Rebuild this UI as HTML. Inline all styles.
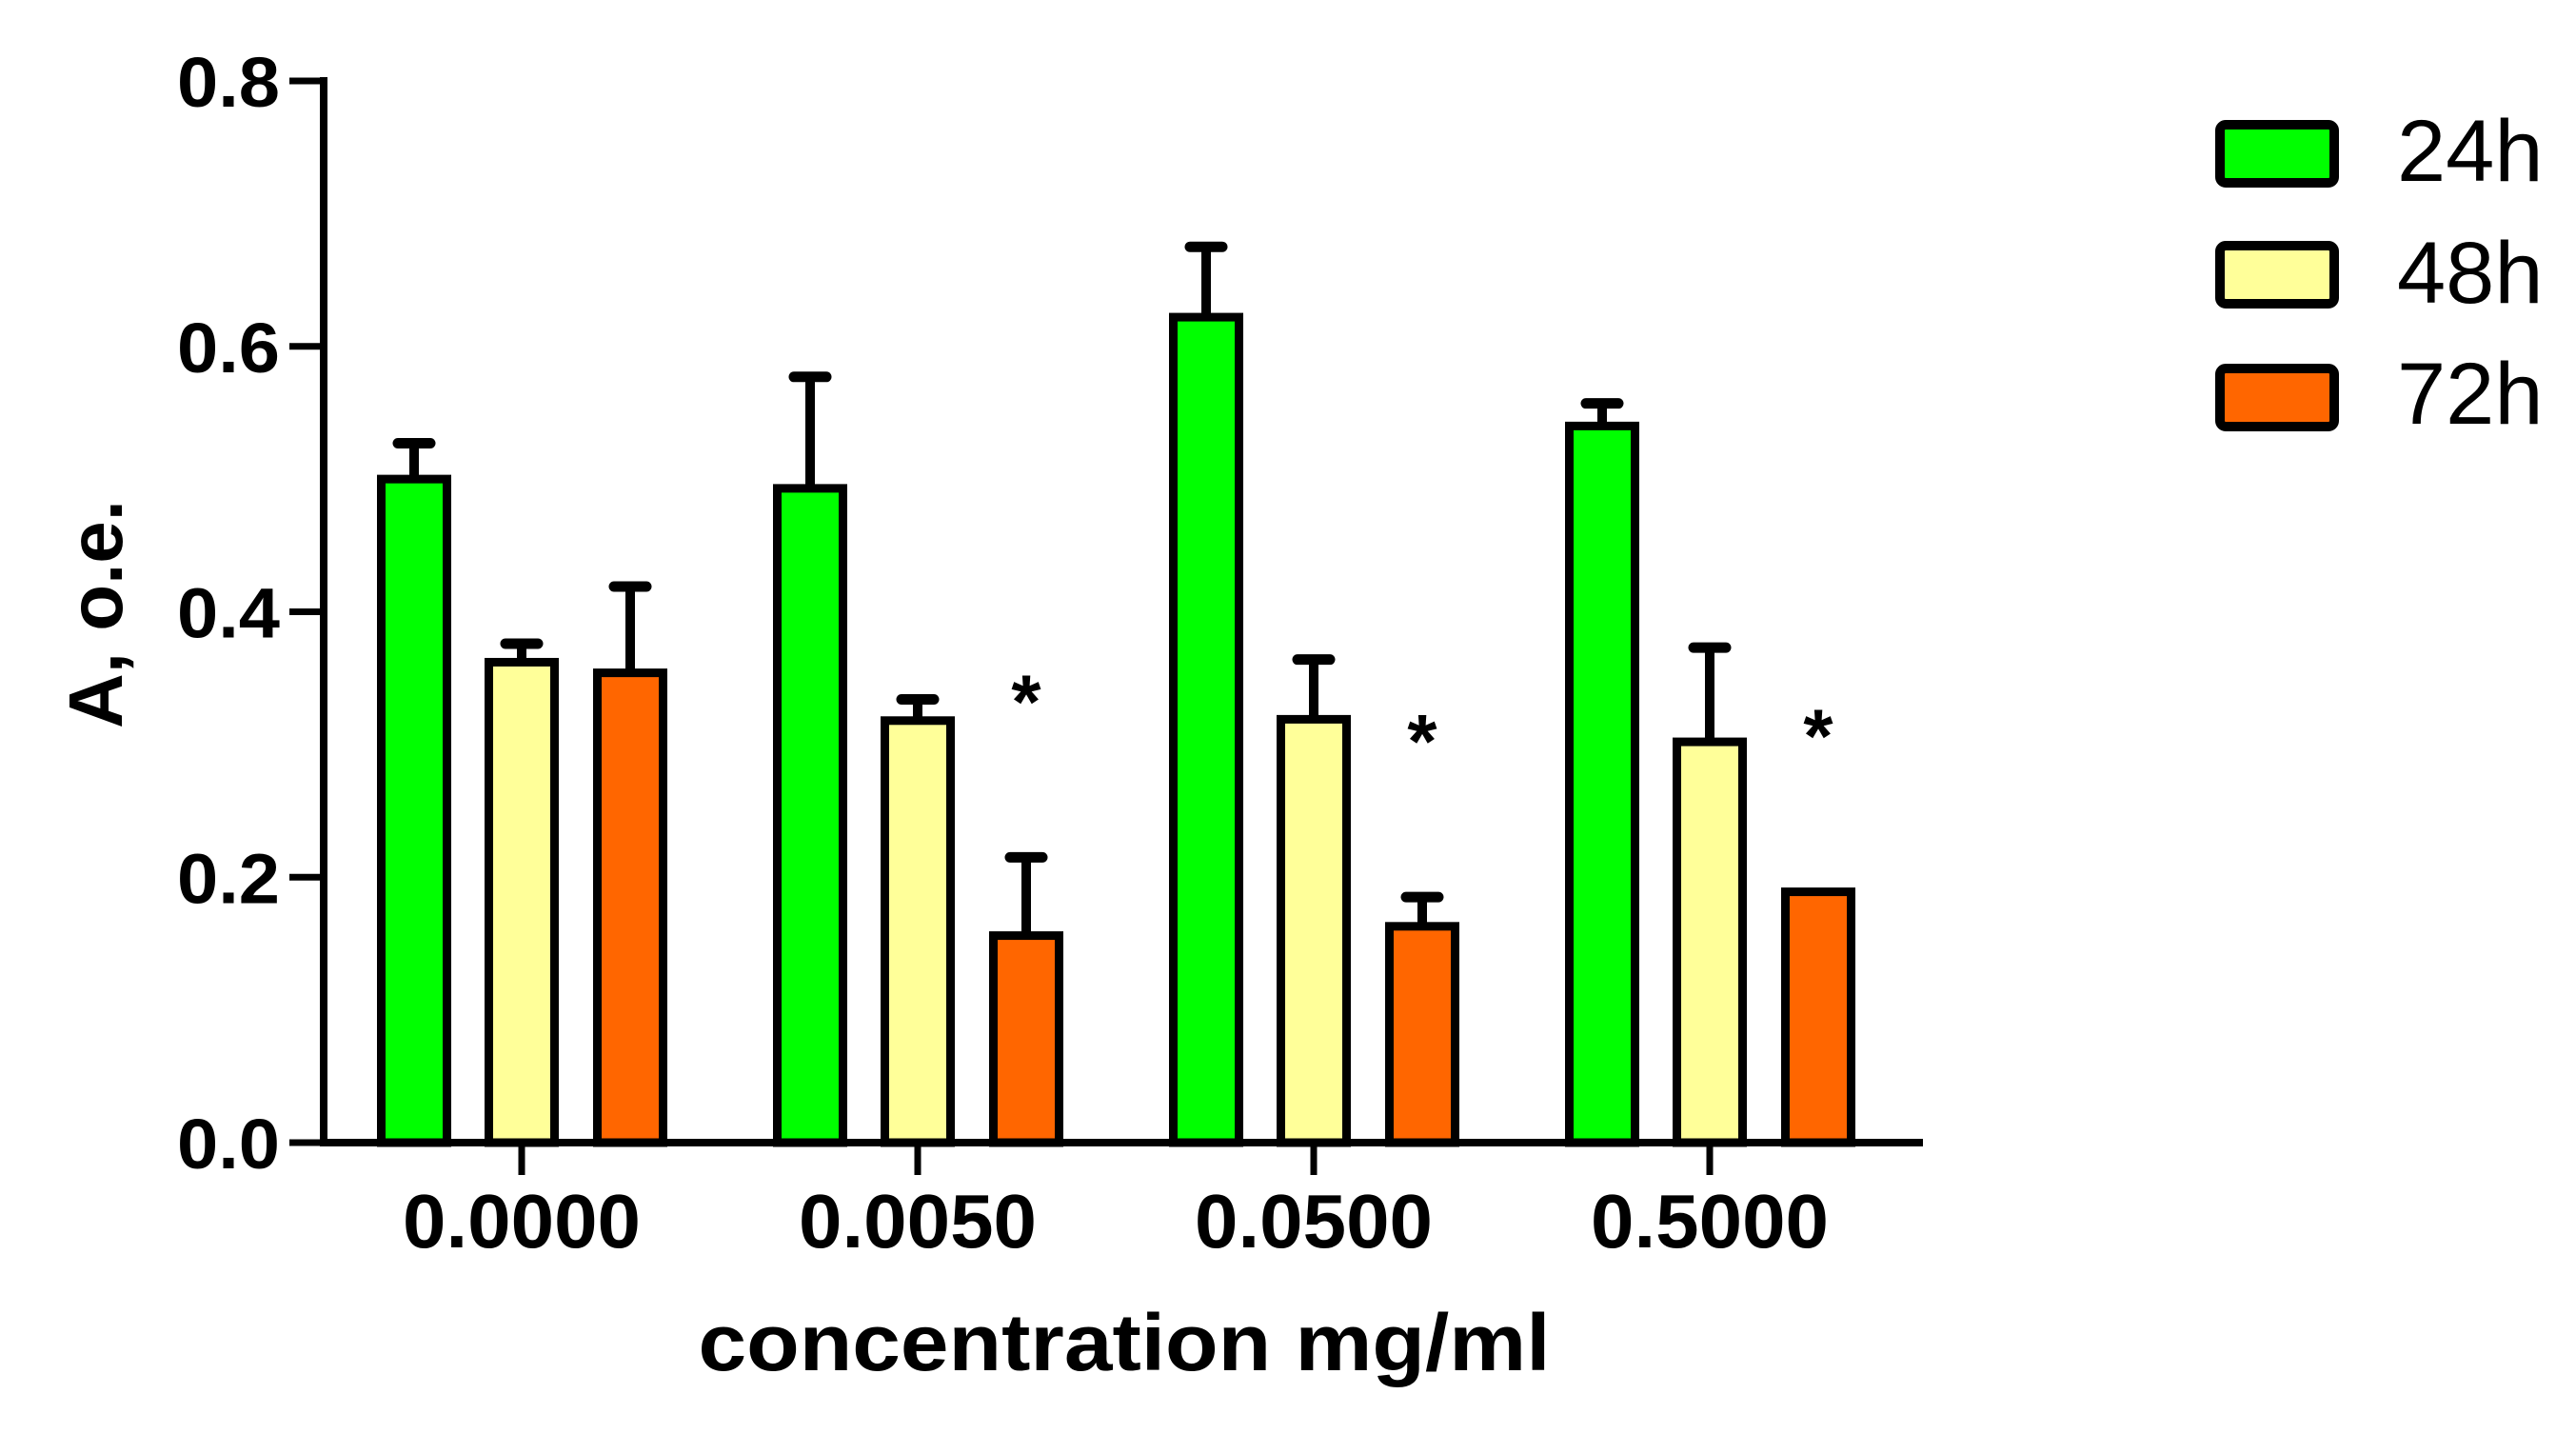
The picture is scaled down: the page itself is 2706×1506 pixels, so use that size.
<!DOCTYPE html>
<html><head><meta charset="utf-8"><style>
html,body{margin:0;padding:0;background:#fff;}
svg{display:block;}
text{font-family:"Liberation Sans",Arial,sans-serif;}
</style></head><body>
<svg id="chart" width="2706" height="1506" viewBox="0 0 2706 1506" xmlns="http://www.w3.org/2000/svg">
<g id="bars"></g>
<g id="axes"></g>
<g id="legend"></g>
</svg>
<script>
const categories = ["0.0000","0.0050","0.0500","0.5000"];
const seriesNames = ["24h","48h","72h"];
const means24 = [0.500,0.493,0.622,0.540];
const means48 = [0.362,0.318,0.319,0.302];
const means72 = [0.354,0.156,0.163,0.189];
const err24 = [0.027,0.084,0.053,0.017];
const err48 = [0.014,0.016,0.045,0.071];
const err72 = [0.065,0.059,0.022,0.000];
const significant72 = [false,true,true,true];
const yTicks = [0.0,0.2,0.4,0.6,0.8];
const yTickLabels = ["0.0","0.2","0.4","0.6","0.8"];

const colors = ["#00ff00","#ffff99","#ff6600"];
const means = [means24,means48,means72];
const errs = [err24,err48,err72];
const NS = "http://www.w3.org/2000/svg";
const X0 = 340, Y0 = 1200, YTOP = 85, XEND = 2020;
function yScale(v){ return Y0 - (v/0.8)*(Y0-YTOP); }
function groupX(i){ return 548 + i*416; }
const offsets = [-113, 0, 114];
const BW = 78;
function mk(tag, attrs, parent){
  const e = document.createElementNS(NS, tag);
  for (const k in attrs) e.setAttribute(k, attrs[k]);
  parent.appendChild(e); return e;
}
const bars = document.getElementById('bars');
const axes = document.getElementById('axes');
const legend = document.getElementById('legend');

categories.forEach((c, i) => {
  for (let s = 0; s < 3; s++) {
    const cx = groupX(i) + offsets[s];
    const top = yScale(means[s][i]);
    const etop = yScale(means[s][i] + errs[s][i]);
    if (errs[s][i] > 0) {
      const el = mk('line', {x1:cx, x2:cx, y1:top, y2:etop, stroke:'#000','stroke-width':10}, bars);
      
      
      const cap = mk('line', {x1:cx-17, x2:cx+17, y1:etop, y2:etop, stroke:'#000','stroke-width':11,'stroke-linecap':'round'}, bars);
      
      
    }
    const r = mk('rect', {x:cx-BW/2+4.5, y:top, width:BW-9, height:Y0-top, fill:colors[s], stroke:'#000','stroke-width':9}, bars);
    
    
  }
  if (significant72[i]) {
    const cx = groupX(i) + offsets[2];
    const etop = yScale(means72[i] + err72[i]);
    const st = mk('text', {x:cx, y:etop - 136, 'text-anchor':'middle','font-size':80,'font-weight':'bold',fill:'#000'}, bars);
    st.textContent = '*';
    
    
  }
});

// axes
let el = mk('line', {x1:X0, x2:X0, y1:YTOP-4, y2:Y0+4, stroke:'#000','stroke-width':8}, axes);


el = mk('line', {x1:X0-4, x2:XEND, y1:Y0, y2:Y0, stroke:'#000','stroke-width':8}, axes);


yTicks.forEach((v, k) => {
  const y = yScale(v);
  const t = mk('line', {x1:304, x2:X0, y1:y, y2:y, stroke:'#000','stroke-width':7}, axes);
  
  
  const lb = mk('text', {x:294, y:y+27, 'text-anchor':'end','font-size':74,'font-weight':'bold',fill:'#000',textLength:108,lengthAdjust:'spacingAndGlyphs'}, axes);
  lb.textContent = yTickLabels[k];
  
  
});
categories.forEach((c, i) => {
  const x = groupX(i);
  const t = mk('line', {x1:x, x2:x, y1:Y0, y2:1234, stroke:'#000','stroke-width':7}, axes);
  
  
  const lb = mk('text', {x:x, y:1310, 'text-anchor':'middle','font-size':80,'font-weight':'bold',fill:'#000',textLength:250,lengthAdjust:'spacingAndGlyphs'}, axes);
  lb.textContent = c;
  
  
});
el = mk('text', {x:1181, y:1439, 'text-anchor':'middle','font-size':84,'font-weight':'bold',fill:'#000',textLength:895,lengthAdjust:'spacingAndGlyphs'}, axes);
el.textContent = 'concentration mg/ml';


el = mk('text', {x:0, y:0, 'text-anchor':'middle','font-size':80,'font-weight':'bold',fill:'#000',transform:'translate(128,645) rotate(-90)'}, axes);
el.textContent = 'A, o.e.';



// legend
const boxY = [126, 253, 382];
const textY = [190, 318, 445];
seriesNames.forEach((n, s) => {
  const b = mk('rect', {x:2332, y:boxY[s]+5, width:120, height:61, rx:6, fill:colors[s], stroke:'#000','stroke-width':10}, legend);
  
  
  const t = mk('text', {x:2518, y:textY[s], 'font-size':92, fill:'#000'}, legend);
  t.textContent = n;
  
  
});
</script>
</body></html>
